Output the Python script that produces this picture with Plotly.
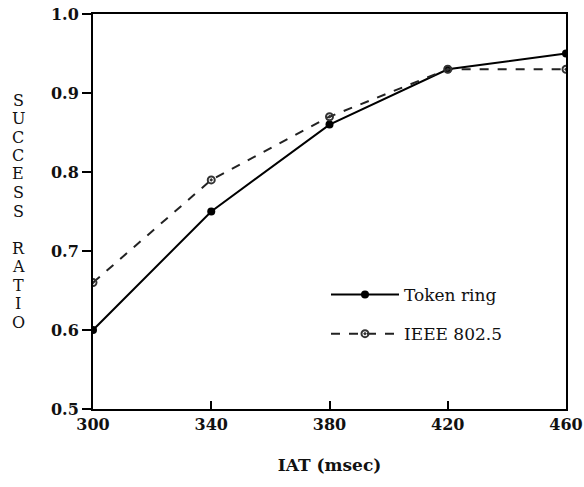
import plotly.graph_objects as go

iat = [300, 340, 380, 420, 460]
token_ring = [0.60, 0.75, 0.86, 0.93, 0.95]
ieee = [0.66, 0.79, 0.87, 0.93, 0.93]
x_ticks = [300, 340, 380, 420, 460]
y_ticks = [0.5, 0.6, 0.7, 0.8, 0.9, 1.0]
y_title = "SUCCESS RATIO"

FONT = "DejaVu Serif"
W, H = 584, 487
ML, MR, MT, MB = 93, 18, 14, 78
PW, PH = W - ML - MR, H - MT - MB

fig = go.Figure()
fig.add_trace(go.Scatter(
    x=iat, y=token_ring, name="Token ring", mode="lines+markers", legendgroup="a",
    line=dict(color="black", width=2),
    marker=dict(symbol="circle", size=8, color="black"),
))
fig.add_trace(go.Scatter(
    x=iat, y=ieee, name="IEEE 802.5", mode="lines+markers", legendgroup="b",
    line=dict(color="#222", width=2, dash="dash"),
    marker=dict(symbol="circle-open-dot", size=7, color="#333", line=dict(width=2)),
))

fig.update_layout(
    width=W, height=H,
    margin=dict(l=ML, r=MR, t=MT, b=MB),
    paper_bgcolor="white", plot_bgcolor="white",
    font=dict(family=FONT, size=17, color="#111"),
    showlegend=True,
    legend=dict(x=(326 - ML) / PW, y=1 - (277 - MT) / PH, xanchor="left", yanchor="top",
                bgcolor="rgba(0,0,0,0)", font=dict(family=FONT, size=17, color="#111"),
                tracegroupgap=14, itemwidth=68),
    xaxis=dict(
        range=[300, 460], tickvals=x_ticks, ticktext=[str(v) for v in x_ticks],
        ticks="inside", ticklen=8, tickwidth=1.5, tickcolor="black",
        showline=True, linecolor="black", linewidth=2, mirror=True,
        showgrid=False, zeroline=False, automargin=False,
        tickfont=dict(family=FONT, size=16, weight="bold"),
        title=dict(text="IAT (msec)", font=dict(family=FONT, size=17, weight="bold"), standoff=26),
    ),
    yaxis=dict(
        range=[0.5, 1.0], tickvals=y_ticks, ticktext=[f"{v:.1f}" for v in y_ticks],
        ticks="outside", ticklen=9, tickwidth=1.5, tickcolor="black",
        showline=True, linecolor="black", linewidth=2, mirror=True,
        showgrid=False, zeroline=False, automargin=False,
        tickfont=dict(family=FONT, size=16, weight="bold"),
    ),
)

# vertical stacked y-axis title, one letter per line
line_px = 18.5
start_px = 100
for i, ch in enumerate(y_title):
    if ch == " ":
        continue
    py = start_px + i * line_px
    fig.add_annotation(
        text=ch, xref="paper", yref="paper", x=(18 - ML) / PW, y=1 - (py - MT) / PH,
        xanchor="center", yanchor="middle", showarrow=False, borderpad=0,
        font=dict(family=FONT, size=16, color="#111"),
    )

fig.write_html("out.html")
